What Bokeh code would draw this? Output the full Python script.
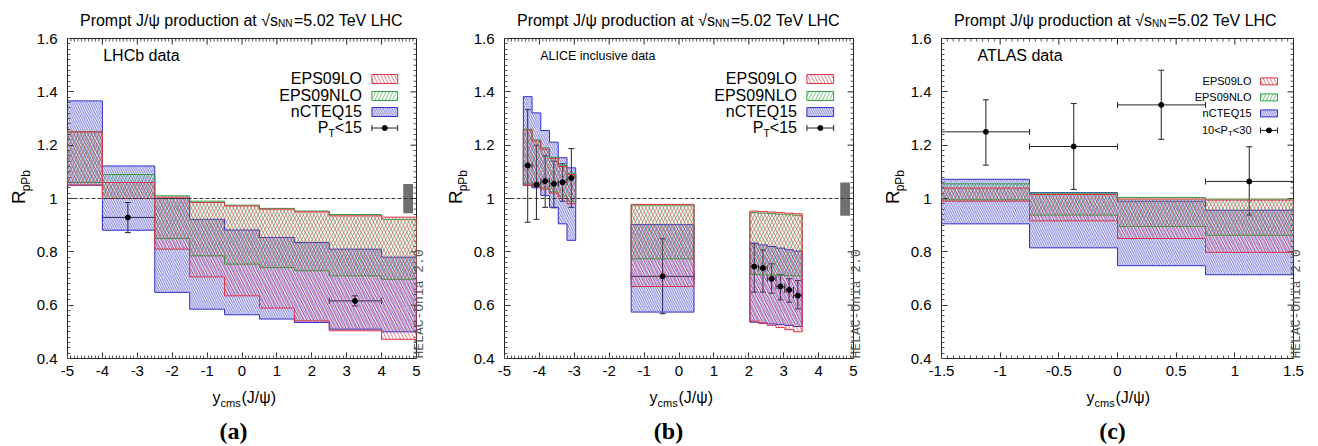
import math
import numpy as np
from bokeh.plotting import figure
from bokeh.models import (ColumnDataSource, Label, Span, Whisker, TeeHead, FixedTicker,
                          LinearAxis, CustomJSTickFormatter, Range1d)
from bokeh.layouts import row, column
from bokeh.embed import file_html
from bokeh.resources import INLINE

# ---------------- texts ----------------
TITLE_MAIN = "Prompt J/\u03c8 production at \u221as"
TITLE_SUB = "NN"
TITLE_END = "=5.02 TeV LHC"
MODEL_NAMES = ["EPS09LO", "EPS09NLO", "nCTEQ15"]
Y_TICKS = [0.4, 0.6, 0.8, 1.0, 1.2, 1.4, 1.6]
AB_X_TICKS = [-5, -4, -3, -2, -1, 0, 1, 2, 3, 4, 5]
C_X_TICKS = [-1.5, -1.0, -0.5, 0.0, 0.5, 1.0, 1.5]

# ---------------- panel (a): LHCb ----------------
a_edges = [-5, -4, -2.5, -1.5, -0.5, 0.5, 1.5, 2.5, 4, 5]
a_lo_low = [1.05, 1.00, 0.810, 0.706, 0.635, 0.589, 0.541, 0.504, 0.472]
a_lo_high = [1.25, 1.06, 1.005, 0.985, 0.972, 0.960, 0.950, 0.935, 0.930]
a_nlo_low = [1.06, 1.00, 0.850, 0.785, 0.754, 0.741, 0.729, 0.710, 0.697]
a_nlo_high = [1.25, 1.09, 1.010, 0.990, 0.975, 0.963, 0.953, 0.940, 0.922]
a_ncteq_low = [1.05, 0.881, 0.648, 0.585, 0.564, 0.548, 0.535, 0.510, 0.500]
a_ncteq_high = [1.366, 1.122, 1.000, 0.922, 0.882, 0.854, 0.835, 0.810, 0.780]
a_data_x = [-3.27, 3.24]
a_data_y = [0.929, 0.616]
a_data_ylow = [0.872, 0.597]
a_data_yhigh = [0.985, 0.635]
a_data_xlow = [-4.0, 2.5]
a_data_xhigh = [-2.5, 4.0]
a_norm_box = [4.62, 4.90, 0.945, 1.054]

# ---------------- panel (b): ALICE ----------------
b_bw_edges = [-4.46, -4.21, -3.96, -3.71, -3.46, -3.21, -2.96]
b_bw_lo_low = [1.050, 1.045, 1.035, 1.020, 1.000, 0.980]
b_bw_lo_high = [1.257, 1.215, 1.185, 1.150, 1.120, 1.090]
b_bw_nlo_low = [1.055, 1.050, 1.040, 1.025, 1.010, 0.990]
b_bw_nlo_high = [1.260, 1.220, 1.190, 1.155, 1.125, 1.095]
b_bw_ncteq_low = [1.049, 1.040, 1.011, 0.967, 0.905, 0.843]
b_bw_ncteq_high = [1.382, 1.321, 1.255, 1.211, 1.153, 1.115]
b_mid_edges = [-1.37, 0.43]
b_mid_lo_low = [0.670]
b_mid_lo_high = [0.978]
b_mid_nlo_low = [0.774]
b_mid_nlo_high = [0.975]
b_mid_ncteq_low = [0.574]
b_mid_ncteq_high = [0.902]
b_fw_edges = [2.03, 2.28, 2.53, 2.78, 3.03, 3.28, 3.53]
b_fw_lo_low = [0.540, 0.532, 0.524, 0.516, 0.508, 0.500]
b_fw_lo_high = [0.953, 0.951, 0.949, 0.947, 0.945, 0.943]
b_fw_nlo_low = [0.715, 0.714, 0.713, 0.712, 0.711, 0.710]
b_fw_nlo_high = [0.947, 0.945, 0.943, 0.941, 0.939, 0.937]
b_fw_ncteq_low = [0.536, 0.533, 0.530, 0.527, 0.524, 0.520]
b_fw_ncteq_high = [0.832, 0.826, 0.820, 0.814, 0.808, 0.803]
b_data_x = [-4.335, -4.085, -3.835, -3.585, -3.335, -3.085, -0.47,
            2.155, 2.405, 2.655, 2.905, 3.155, 3.405]
b_data_y = [1.124, 1.052, 1.065, 1.055, 1.061, 1.077, 0.708,
            0.745, 0.739, 0.699, 0.670, 0.657, 0.636]
b_data_ylow = [0.911, 0.922, 0.967, 0.965, 0.990, 0.967, 0.568,
               0.649, 0.649, 0.645, 0.620, 0.611, 0.586]
b_data_yhigh = [1.333, 1.200, 1.160, 1.140, 1.130, 1.187, 0.849,
                0.832, 0.807, 0.755, 0.714, 0.699, 0.692]
b_data_xlow = [-4.46, -4.21, -3.96, -3.71, -3.46, -3.21, -1.37,
               2.03, 2.28, 2.53, 2.78, 3.03, 3.28]
b_data_xhigh = [-4.21, -3.96, -3.71, -3.46, -3.21, -2.96, 0.43,
                2.28, 2.53, 2.78, 3.03, 3.28, 3.53]
b_norm_box = [4.62, 4.90, 0.935, 1.060]

# ---------------- panel (c): ATLAS ----------------
c_edges = [-1.5, -0.75, 0.0, 0.75, 1.5]
c_lo_low = [0.990, 0.916, 0.850, 0.798]
c_lo_high = [1.039, 1.015, 0.998, 0.994]
c_nlo_low = [0.995, 0.938, 0.895, 0.862]
c_nlo_high = [1.055, 1.020, 1.004, 0.998]
c_ncteq_low = [0.905, 0.815, 0.748, 0.714]
c_ncteq_high = [1.072, 1.022, 0.990, 0.956]
c_data_x = [-1.122, -0.373, 0.373, 1.123]
c_data_y = [1.250, 1.195, 1.351, 1.064]
c_data_ylow = [1.125, 1.034, 1.222, 0.938]
c_data_yhigh = [1.370, 1.356, 1.481, 1.194]
c_data_xlow = [-1.5, -0.75, 0.0, 0.75]
c_data_xhigh = [-0.75, 0.0, 0.75, 1.5]

# ---------------- styling / geometry ----------------
FONT = "Liberation Sans"
COL = {"EPS09LO": "#dd3344", "EPS09NLO": "#33a040", "nCTEQ15": "#3030cc"}
HATCH = {"EPS09LO": ("\\", 7), "EPS09NLO": ("/", 7), "nCTEQ15": ("\\", 4.5)}
HATCH_ALPHA = 0.65
FL, FT, FW, FH = 67, 38, 352, 320      # frame position inside a panel (px)
TOP_H, LEFT_W, BOT_H = 29, 33, 61       # text strips around the main plot
MAIN_H = 446 - TOP_H - BOT_H
YR = (0.4, 1.6)
DESC = 0.21                             # descent of the fonts (fraction of size)

AW = {'<': 584, '1': 556, '5': 556, '3': 556, '0': 556, 'T': 611, 'P': 667}


def tw(s, fs):
    return sum(AW.get(ch, 556) for ch in s) * fs / 1000.0


def step_polygon(edges, low, high):
    xs, ys = [], []
    for i in range(len(high)):
        xs += [edges[i], edges[i + 1]]
        ys += [high[i], high[i]]
    for i in reversed(range(len(low))):
        xs += [edges[i + 1], edges[i]]
        ys += [low[i], low[i]]
    return xs, ys


def text_strip(w, h):
    f = figure(width=w, height=h, x_range=Range1d(0, w), y_range=Range1d(0, h),
               x_axis_location=None, y_axis_location=None, min_border=0,
               toolbar_location=None, output_backend="svg")
    f.outline_line_color = None
    f.xgrid.visible = False
    f.ygrid.visible = False
    return f


def lab(fig, h, x, base_py, text, fs, align="left", font=FONT, style="normal",
        rotated=False, color="black"):
    """Text in a strip of height h. base_py = wanted baseline (px from strip top);
    for rotated text, x is the wanted baseline (px from the left)."""
    if rotated:
        ax, ay = x + DESC * fs, h - base_py
    else:
        ax, ay = x, h - (base_py + DESC * fs)
    fig.add_layout(Label(x=ax, y=ay, text=text, text_align=align,
                         text_baseline="bottom", text_font=font,
                         text_font_size=f"{fs}px", text_font_style=style,
                         angle=(math.pi / 2 if rotated else 0.0), text_color=color))


def make_panel(width, xr, xticks, xminor, groups, data, norm_box, dataset_label,
               dataset_fs, legend, panel_label, panel_off, draw_unity):
    right_border = width - FL - FW
    main_w = width - LEFT_W
    p = figure(width=main_w, height=MAIN_H, x_range=Range1d(*xr), y_range=Range1d(*YR),
               min_border_left=FL - LEFT_W, min_border_right=right_border,
               min_border_top=FT - TOP_H, min_border_bottom=MAIN_H - (FT - TOP_H) - FH,
               toolbar_location=None, output_backend="svg")
    p.xgrid.visible = False
    p.ygrid.visible = False
    p.outline_line_color = "#222222"
    p.outline_line_width = 1
    p.background_fill_color = "white"
    p.border_fill_color = "white"

    sx = (xr[1] - xr[0]) / FW      # data per px (x)
    sy = (YR[1] - YR[0]) / FH      # data per px (y)

    def X(px):
        return xr[0] + (px - FL) * sx

    def Y(py):
        return YR[1] - (py - FT) * sy

    fmt = CustomJSTickFormatter(code="return String(Math.round(tick*100)/100);")
    yminor = list(np.round(np.arange(0.4, 1.6001, 0.02), 3))
    xt = FixedTicker(ticks=xticks, minor_ticks=xminor)
    yt = FixedTicker(ticks=Y_TICKS, minor_ticks=yminor)
    for ax in (p.xaxis[0], p.yaxis[0]):
        ax.major_tick_in = 6
        ax.major_tick_out = 0
        ax.minor_tick_in = 3
        ax.minor_tick_out = 0
        ax.axis_line_color = None
        ax.major_tick_line_color = "#222222"
        ax.minor_tick_line_color = "#555555"
        ax.major_label_text_font = FONT
        ax.major_label_text_font_size = "15px"
        ax.major_label_text_color = "black"
        ax.formatter = fmt
    p.xaxis[0].ticker = xt
    p.yaxis[0].ticker = yt
    p.xaxis[0].major_label_standoff = 7
    p.yaxis[0].major_label_standoff = 10

    # mirrored ticks on the top and right edges
    yminor_only = [v for v in yminor if all(abs(v - t) > 1e-6 for t in Y_TICKS)]
    xminor_only = [v for v in xminor if all(abs(v - t) > 1e-6 for t in xticks)]
    p.segment(x0=[xr[1]] * len(Y_TICKS), y0=Y_TICKS, x1=[xr[1] - 6 * sx] * len(Y_TICKS),
              y1=Y_TICKS, line_color="#222222", line_width=1)
    p.segment(x0=[xr[1]] * len(yminor_only), y0=yminor_only,
              x1=[xr[1] - 3 * sx] * len(yminor_only), y1=yminor_only,
              line_color="#555555", line_width=1)
    p.segment(x0=xticks, y0=[YR[1]] * len(xticks), x1=xticks,
              y1=[YR[1] - 6 * sy] * len(xticks), line_color="#222222", line_width=1)
    p.segment(x0=xminor_only, y0=[YR[1]] * len(xminor_only), x1=xminor_only,
              y1=[YR[1] - 3 * sy] * len(xminor_only), line_color="#555555", line_width=1)

    # HELAC-Onia watermark as the label of a tick-less right axis
    helac = LinearAxis(ticker=FixedTicker(ticks=[]), axis_label="HELAC-Onia 2.0",
                       axis_label_text_font="Liberation Mono",
                       axis_label_text_font_size="13px", axis_label_text_color="#555555",
                       axis_label_text_font_style="normal",
                       axis_label_orientation=math.pi / 2, axis_label_standoff=3,
                       axis_label_align="start", axis_line_color=None,
                       major_tick_out=0, major_tick_in=0, minor_tick_out=0, minor_tick_in=0,
                       major_label_standoff=0)
    p.add_layout(helac, "right")

    # model bands
    for name in ["nCTEQ15", "EPS09NLO", "EPS09LO"]:
        xs_all, ys_all = [], []
        for edges, bands in groups:
            lo, hi = bands[name]
            xs, ys = step_polygon(edges, lo, hi)
            xs_all.append(xs)
            ys_all.append(ys)
        pat, sc = HATCH[name]
        p.patches(xs_all, ys_all, fill_alpha=0, hatch_pattern=pat, hatch_scale=sc,
                  hatch_color=COL[name], hatch_weight=1, hatch_alpha=HATCH_ALPHA,
                  line_color=COL[name], line_width=1)

    if draw_unity:
        p.add_layout(Span(location=1.0, dimension="width", line_color="#333333",
                          line_width=1, line_dash="4 2"))
    if norm_box is not None:
        p.quad(left=[norm_box[0]], right=[norm_box[1]], bottom=[norm_box[2]],
               top=[norm_box[3]], fill_color="#707070", line_color=None)

    # data
    dx, dy, dlo, dhi, dxl, dxh = data
    src = ColumnDataSource(dict(x=dx, y=dy, lo=dlo, hi=dhi, xl=dxl, xh=dxh))
    ec = "#222222"
    p.add_layout(Whisker(source=src, base="x", lower="lo", upper="hi", dimension="height",
                         line_color=ec, line_width=1,
                         upper_head=TeeHead(size=6, line_color=ec, line_width=1),
                         lower_head=TeeHead(size=6, line_color=ec, line_width=1)))
    p.add_layout(Whisker(source=src, base="y", lower="xl", upper="xh", dimension="width",
                         line_color=ec, line_width=1,
                         upper_head=TeeHead(size=6, line_color=ec, line_width=1),
                         lower_head=TeeHead(size=6, line_color=ec, line_width=1)))
    p.scatter("x", "y", source=src, size=5, color="black")

    def plab(px, py, text, fs, align="left"):
        p.add_layout(Label(x=X(px), y=Y(py + DESC * fs), text=text, text_align=align,
                           text_baseline="bottom", text_font=FONT,
                           text_font_size=f"{fs}px", text_color="black"))

    # dataset label (inside frame)
    plab(FL + 36, 60, dataset_label, dataset_fs)

    # legend (inside frame)
    tr, sl, sr, rows, fs, sfs, sh, dparts = legend
    for i, name in enumerate(MODEL_NAMES):
        b = rows[i]
        plab(FL + FW + tr, b, name, fs, align="right")
        cyp = b - 0.28 * fs
        pat, sc = HATCH[name]
        p.quad(left=[X(FL + FW + sl)], right=[X(FL + FW + sr)], bottom=[Y(cyp + sh / 2)],
               top=[Y(cyp - sh / 2)], fill_alpha=0, hatch_pattern=pat, hatch_scale=sc,
               hatch_color=COL[name], hatch_weight=1, hatch_alpha=HATCH_ALPHA,
               line_color=COL[name], line_width=1)
    b = rows[3]
    pre, sub, post = dparts
    xr_txt = FL + FW + tr
    plab(xr_txt, b, post, fs, align="right")
    x_sub = xr_txt - tw(post, fs)
    plab(x_sub, b + 0.25 * fs, sub, sfs, align="right")
    plab(x_sub - tw(sub, sfs), b, pre, fs, align="right")
    cyp = b - 0.28 * fs
    l, r = X(FL + FW + sl), X(FL + FW + sr)
    p.segment(x0=[l], y0=[Y(cyp)], x1=[r], y1=[Y(cyp)], line_color=ec, line_width=1)
    p.segment(x0=[l, r], y0=[Y(cyp - 3)] * 2, x1=[l, r], y1=[Y(cyp + 3)] * 2,
              line_color=ec, line_width=1)
    p.scatter(x=[(l + r) / 2], y=[Y(cyp)], size=5, color="black")

    # ---- text strips: title (top), y label (left), x label + panel tag (bottom)
    cx = FL + FW / 2.0
    top = text_strip(width, TOP_H)
    anchor = cx + 34.5
    lab(top, TOP_H, anchor, 25, TITLE_MAIN, 16, align="right")
    lab(top, TOP_H, anchor, 26.8, TITLE_SUB, 10)
    lab(top, TOP_H, anchor + 16, 25, TITLE_END, 16)

    left = text_strip(LEFT_W, MAIN_H)
    lab(left, MAIN_H, 25, 213 - TOP_H, "R", 19, rotated=True)
    lab(left, MAIN_H, 29.5, 199 - TOP_H, "pPb", 12, rotated=True)

    bot = text_strip(width, BOT_H)
    base = 446 - BOT_H
    xa = cx - 23
    lab(bot, BOT_H, xa, 402 - base, "y", 16, align="right")
    lab(bot, BOT_H, xa, 406 - base, "cms", 11)
    lab(bot, BOT_H, xa + 21, 402 - base, "(J/\u03c8)", 16)
    lab(bot, BOT_H, cx + panel_off, 438 - base, panel_label, 24, align="center",
        font="Liberation Serif", style="bold")

    return column(top, row(left, p), bot)


def bands(lo_l, lo_h, nlo_l, nlo_h, nc_l, nc_h):
    return {"EPS09LO": (lo_l, lo_h), "EPS09NLO": (nlo_l, nlo_h), "nCTEQ15": (nc_l, nc_h)}


ab_minor = list(np.round(np.arange(-5, 5.0001, 0.1), 3))
c_minor = list(np.round(np.arange(-1.5, 1.5001, 0.05), 3))

pa = make_panel(437, (-5, 5), AB_X_TICKS, ab_minor,
                [(a_edges, bands(a_lo_low, a_lo_high, a_nlo_low, a_nlo_high,
                                 a_ncteq_low, a_ncteq_high))],
                (a_data_x, a_data_y, a_data_ylow, a_data_yhigh, a_data_xlow, a_data_xhigh),
                a_norm_box, "LHCb data", 16,
                (-55, -45, -19, [83, 100, 116, 132], 16, 11, 9, ("P", "T", "<15")),
                "(a)", -10, True)

pb = make_panel(437, (-5, 5), AB_X_TICKS, ab_minor,
                [(b_bw_edges, bands(b_bw_lo_low, b_bw_lo_high, b_bw_nlo_low, b_bw_nlo_high,
                                    b_bw_ncteq_low, b_bw_ncteq_high)),
                 (b_mid_edges, bands(b_mid_lo_low, b_mid_lo_high, b_mid_nlo_low,
                                     b_mid_nlo_high, b_mid_ncteq_low, b_mid_ncteq_high)),
                 (b_fw_edges, bands(b_fw_lo_low, b_fw_lo_high, b_fw_nlo_low, b_fw_nlo_high,
                                    b_fw_ncteq_low, b_fw_ncteq_high))],
                (b_data_x, b_data_y, b_data_ylow, b_data_yhigh, b_data_xlow, b_data_xhigh),
                b_norm_box, "ALICE inclusive data", 12.5,
                (-57, -47, -20, [83, 100, 116, 132], 16, 11, 9, ("P", "T", "<15")),
                "(b)", -12, True)

pc = make_panel(444, (-1.5, 1.5), C_X_TICKS, c_minor,
                [(c_edges, bands(c_lo_low, c_lo_high, c_nlo_low, c_nlo_high,
                                 c_ncteq_low, c_ncteq_high))],
                (c_data_x, c_data_y, c_data_ylow, c_data_yhigh, c_data_xlow, c_data_xhigh),
                None, "ATLAS data", 16,
                (-42, -33, -16, [84, 100, 116, 133], 11, 8, 7, ("10<P", "T", "<30")),
                "(c)", -5, False)

layout = row(pa, pb, pc)
open("out.html", "w").write(file_html(layout, INLINE))
